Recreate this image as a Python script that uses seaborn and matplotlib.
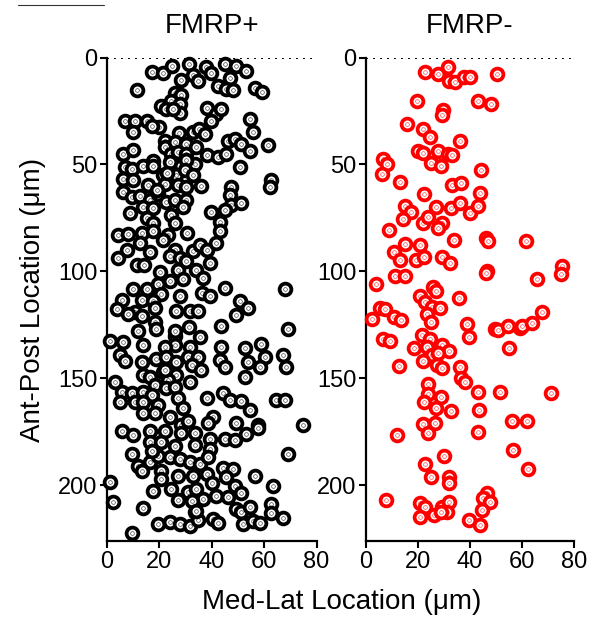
import numpy as np
import pandas as pd
import seaborn as sns
import matplotlib.pyplot as plt
from matplotlib.path import Path
from matplotlib.markers import MarkerStyle
from matplotlib.lines import Line2D

# FMRP+ cells (med-lat x, ant-post y), in um
pos_x = [17.0, 21.5, 25.0, 31.4, 32.9, 28.4, 34.8, 37.7, 39.9, 45.0, 49.4, 53.2, 47.1, 42.4, 45.6, 48.1,
         56.4, 59.3, 11.3, 25.9, 28.4, 24.6, 27.8, 20.8, 22.7, 27.8, 25.3, 38.0, 41.8, 43.7, 39.9, 6.9,
         10.7, 15.1, 10.0, 19.9, 17.0, 54.5, 55.8, 61.5, 27.4, 32.9, 35.2, 37.3, 22.1, 22.1, 25.9, 30.3,
         34.1, 46.2, 48.8, 51.3, 54.5, 6.2, 10.0, 24.6, 27.2, 30.1, 38.0, 42.4, 45.6, 6.9, 9.4, 13.8,
         17.6, 24.0, 28.4, 33.5, 30.3, 17.6, 50.7, 6.2, 10.0, 21.5, 26.5, 29.7, 15.7, 22.1, 27.2, 30.1,
         47.5, 62.7, 62.1, 6.2, 9.4, 12.6, 16.4, 19.6, 22.7, 25.9, 30.1, 29.1, 46.9, 47.5, 51.3, 8.8,
         13.8, 17.6, 15.1, 17.6, 24.6, 25.9, 39.9, 45.0, 43.0, 43.0, 4.3, 8.1, 13.2, 17.6, 23.4, 30.6,
         7.5, 4.3, 12.6, 16.4, 21.5, 25.9, 24.0, 27.8, 32.9, 35.4, 38.0, 41.8, 39.2, 11.3, 20.2, 27.2,
         34.1, 36.7, 24.0, 29.1, 45.0, 67.8, 10.0, 15.1, 19.6, 20.8, 27.8, 36.1, 39.2, 5.6, 13.2, 17.6,
         3.7, 10.7, 13.2, 18.3, 26.5, 31.6, 34.8, 50.7, 53.8, 49.4, 18.3, 18.9, 43.7, 69.1, 31.4, 35.4,
         1.1, 6.2, 13.8, 25.9, 25.9, 31.6, 22.1, 43.7, 52.6, 58.9, 67.2, 5.0, 6.9, 13.2, 18.9, 22.7,
         26.5, 31.0, 34.8, 43.0, 45.0, 53.8, 60.2, 58.3, 68.4, 13.8, 21.5, 16.4, 26.5, 23.4, 32.3, 52.6,
         3.0, 5.6, 9.4, 13.8, 18.3, 17.0, 22.7, 25.9, 31.6, 27.2, 4.9, 10.7, 13.8, 19.6, 38.0, 44.3,
         46.9, 51.3, 54.5, 64.6, 67.8, 13.8, 18.3, 24.0, 28.4, 40.5, 38.6, 49.4, 57.6, 74.8, 5.6, 9.8,
         16.4, 16.4, 22.1, 20.8, 28.4, 25.9, 33.5, 33.5, 39.2, 39.2, 45.0, 48.8, 53.2, 57.6, 69.1, 9.4,
         11.9, 16.4, 19.6, 24.0, 27.8, 31.6, 35.4, 38.6, 20.8, 13.2, 20.8, 27.2, 32.9, 38.0, 44.3, 48.1,
         45.6, 56.4, 1.1, 17.6, 24.6, 31.0, 34.1, 36.7, 41.8, 46.2, 48.8, 51.3, 63.4, 2.4, 27.2, 32.3,
         33.5, 13.8, 49.4, 51.3, 54.5, 62.7, 62.7, 67.2, 19.6, 24.0, 27.8, 31.6, 34.8, 40.5, 42.4, 51.9,
         55.8, 58.3, 9.4,
         # extra cells in the packed middle
         19.0, 23.0, 33.0, 36.0, 14.0, 30.0, 12.0, 26.0, 22.0, 36.0, 31.0, 8.0, 29.0, 40.0, 17.0, 34.0]
pos_y = [6.8, 7.3, 4.2, 3.0, 8.0, 10.3, 10.8, 4.6, 7.3, 3.1, 4.2, 6.2, 9.6, 13.4, 14.5, 15.4,
         14.2, 16.1, 15.0, 16.5, 17.3, 20.4, 21.9, 22.7, 24.2, 25.8, 24.2, 23.8, 26.5, 24.2, 29.6, 29.6,
         29.6, 29.6, 35.0, 32.7, 31.9, 28.9, 35.0, 40.9, 35.5, 35.0, 33.5, 35.8, 38.9, 41.7, 39.7, 40.4,
         41.7, 38.9, 38.1, 40.4, 43.5, 45.1, 43.2, 45.1, 44.3, 45.1, 45.8, 46.6, 45.1, 51.2, 52.0, 50.9,
         48.2, 48.9, 50.5, 49.7, 47.8, 50.5, 51.2, 56.6, 57.1, 55.1, 55.1, 52.8, 59.7, 59.0, 59.7, 60.5,
         60.5, 57.1, 60.5, 62.8, 65.1, 64.8, 66.7, 63.6, 67.4, 66.7, 66.7, 69.8, 64.4, 69.0, 67.9, 72.8,
         69.8, 70.5, 75.2, 77.2, 73.6, 77.5, 72.1, 71.3, 76.7, 81.3, 82.9, 82.4, 82.1, 81.3, 82.9, 82.1,
         90.2, 93.7, 86.5, 91.1, 85.5, 90.2, 93.0, 93.7, 90.6, 87.5, 89.9, 86.8, 96.0, 96.8, 100.4, 99.1,
         99.1, 103.0, 104.5, 103.7, 107.6, 108.1, 108.1, 108.1, 106.1, 110.7, 111.5, 110.0, 111.5, 113.3, 113.3, 113.8,
         117.6, 118.9, 121.0, 117.3, 118.4, 118.4, 118.4, 113.8, 116.9, 120.4, 123.8, 126.9, 125.7, 126.9, 126.1, 130.8,
         132.3, 133.1, 134.6, 130.0, 134.6, 135.4, 135.4, 135.4, 135.9, 133.8, 138.9, 139.2, 142.0, 142.3, 140.8, 140.0,
         142.3, 140.0, 140.0, 141.6, 144.6, 142.3, 140.0, 144.6, 144.6, 148.5, 146.9, 149.3, 148.5, 150.8, 143.6, 149.3,
         151.9, 156.2, 157.0, 156.2, 153.1, 157.8, 154.7, 153.9, 151.6, 159.3, 161.2, 160.8, 160.8, 162.4, 159.3, 157.0,
         160.1, 160.6, 164.7, 160.1, 160.1, 166.2, 166.2, 167.8, 171.6, 167.8, 170.9, 170.9, 171.6, 171.6, 174.7, 176.5,
         174.7, 179.6, 174.7, 179.6, 175.4, 181.6, 175.4, 181.2, 178.5, 183.2, 178.5, 179.0, 175.9, 173.1, 185.5, 185.5,
         190.9, 189.3, 186.2, 186.7, 187.8, 189.3, 190.1, 186.7, 193.2, 193.2, 197.0, 195.5, 195.5, 194.7, 192.0, 192.4,
         196.3, 195.5, 198.6, 202.8, 201.7, 203.2, 201.7, 206.3, 204.8, 205.2, 200.1, 203.7, 200.1, 207.9, 206.8, 207.1,
         212.5, 210.5, 210.9, 212.5, 210.2, 208.9, 213.0, 215.1, 218.2, 217.1, 217.9, 219.1, 216.3, 215.6, 217.6, 217.9,
         216.6, 217.6, 222.2,
         62.0, 54.0, 55.0, 60.0, 97.0, 95.0, 128.0, 128.0, 146.0, 146.0, 170.0, 120.0, 164.0, 199.0, 184.0, 212.0]

# FMRP- cells
neg_x = [22.7, 27.8, 31.4, 31.9, 34.2, 37.8, 40.0, 50.3, 19.5, 43.0, 48.1, 29.7, 29.1, 15.6, 22.1, 24.6,
         36.2, 20.1, 22.1, 27.6, 31.4, 33.0, 25.0, 28.8, 6.7, 8.0, 6.3, 44.2, 13.1, 22.4, 33.2, 36.5,
         43.8, 15.0, 17.3, 14.4, 22.1, 24.0, 26.8, 29.4, 27.8, 32.7, 36.2, 40.0, 43.2, 8.8, 15.0, 20.8,
         34.0, 46.0, 47.0, 61.4, 10.9, 13.1, 19.1, 22.4, 29.4, 32.3, 46.4, 46.0, 75.3, 75.0, 65.6, 11.2,
         15.0, 3.7, 25.9, 26.8, 20.8, 22.7, 25.3, 28.5, 35.8, 5.4, 7.3, 2.2, 10.9, 13.5, 23.3, 25.0,
         67.8, 38.7, 39.6, 49.6, 50.9, 54.7, 59.2, 59.9, 63.7, 6.7, 9.2, 21.4, 24.6, 18.6, 23.3, 29.1,
         31.9, 25.3, 27.6, 22.1, 27.2, 29.4, 55.0, 12.7, 36.2, 36.5, 38.1, 24.0, 23.7, 22.4, 28.9, 26.8,
         32.7, 43.0, 43.5, 51.5, 71.2, 22.1, 26.5, 56.3, 61.8, 11.8, 23.7, 43.0, 56.7, 30.1, 22.7, 62.2,
         25.0, 31.9, 31.9, 7.6, 20.8, 22.7, 29.1, 31.9, 31.0, 20.8, 26.3, 28.8, 46.4, 45.1, 47.7, 44.5,
         39.6, 43.8]
neg_y = [7.0, 7.7, 4.6, 11.1, 11.4, 9.0, 9.3, 7.7, 20.1, 20.1, 21.6, 24.7, 26.9, 31.2, 33.5, 37.0,
         39.2, 43.5, 44.8, 43.5, 45.1, 45.8, 49.4, 50.9, 47.4, 49.7, 54.3, 52.5, 58.2, 63.6, 59.7, 58.6,
         63.3, 69.5, 72.1, 75.6, 77.2, 74.4, 69.8, 77.5, 79.8, 70.5, 67.9, 72.5, 69.5, 80.6, 87.1, 87.5,
         85.5, 84.5, 86.0, 86.0, 91.1, 94.8, 94.5, 93.3, 93.3, 96.0, 99.9, 100.7, 97.3, 101.4, 103.4, 101.9,
         102.2, 106.1, 107.1, 109.1, 111.5, 114.2, 116.4, 117.3, 112.2, 117.3, 117.6, 122.0, 121.5, 122.6, 120.0, 123.5,
         118.9, 124.6, 130.8, 126.9, 127.2, 125.7, 126.6, 125.7, 124.1, 131.5, 132.3, 129.7, 131.5, 135.8, 135.4, 134.6,
         137.4, 138.9, 138.0, 142.0, 143.9, 145.1, 135.9, 144.2, 144.6, 150.0, 151.6, 152.4, 157.5, 161.2, 158.5, 163.6,
         165.2, 156.2, 164.7, 156.2, 157.0, 171.3, 170.9, 170.1, 169.8, 176.5, 175.4, 175.0, 183.6, 186.2, 190.1, 192.4,
         196.0, 196.0, 199.1, 206.8, 208.3, 209.9, 210.2, 207.9, 212.5, 214.8, 214.0, 212.5, 203.7, 205.8, 207.9, 211.7,
         216.0, 218.7]

x_ticks = [0, 20, 40, 60, 80]
y_ticks = [0, 50, 100, 150, 200]

df_pos = pd.DataFrame({"ml": pos_x, "ap": pos_y})
df_neg = pd.DataFrame({"ml": neg_x, "ap": neg_y})

sns.set_style("ticks")
plt.rcParams['font.family'] = ['Liberation Sans', 'DejaVu Sans']
plt.rcParams['text.color'] = 'black'
plt.rcParams['xtick.color'] = 'black'
plt.rcParams['ytick.color'] = 'black'
plt.rcParams['axes.labelcolor'] = 'black'

# bullseye marker: outer band + center dot are strokes, the ring between is the white face
ring = MarkerStyle(Path.make_compound_path(Path.circle((0, 0), 1.0), Path.circle((0, 0), 0.04)))

fig = plt.figure(figsize=(5.94, 6.21), dpi=100)
ax1 = fig.add_axes([107 / 594, 0.1288, 209.5 / 594, 0.7786])
ax2 = fig.add_axes([366 / 594, 0.1288, 208 / 594, 0.7786])

for ax, df, col, title in [(ax1, df_pos, "black", "FMRP+"), (ax2, df_neg, "#ff0000", "FMRP-")]:
    ax.axhline(0, color="black", lw=1.4, ls=(0, (1, 2.6)), zorder=1)
    sns.scatterplot(data=df, x="ml", y="ap", ax=ax, marker=ring, s=72, color="white",
                    edgecolor=col, linewidth=2.7, clip_on=False, zorder=3, legend=False)
    ax.set_xlim(0, 80)
    ax.set_ylim(226, 0)
    ax.set_xticks(x_ticks)
    ax.set_yticks(y_ticks)
    ax.set_xlabel("")
    ax.set_ylabel("")
    ax.tick_params(labelsize=17, width=1.5, length=5, colors="black", pad=2)
    for s in ["left", "bottom"]:
        ax.spines[s].set_linewidth(1.6)
        ax.spines[s].set_color("black")
    sns.despine(ax=ax)
    ax.set_title(title, fontsize=20, pad=18, color="black")

fig.text(342 / 594, 1 - 602 / 621, "Med-Lat Location (\u03bcm)", fontsize=20, ha="center", va="center")
fig.text(33 / 594, 1 - 300 / 621, "Ant-Post Location (\u03bcm)", fontsize=20, ha="center", va="center",
         rotation=90)
fig.add_artist(Line2D([18 / 594, 104 / 594], [1 - 5 / 621, 1 - 5 / 621], color="#333333", lw=0.8))

plt.savefig("out.png", dpi=100)
